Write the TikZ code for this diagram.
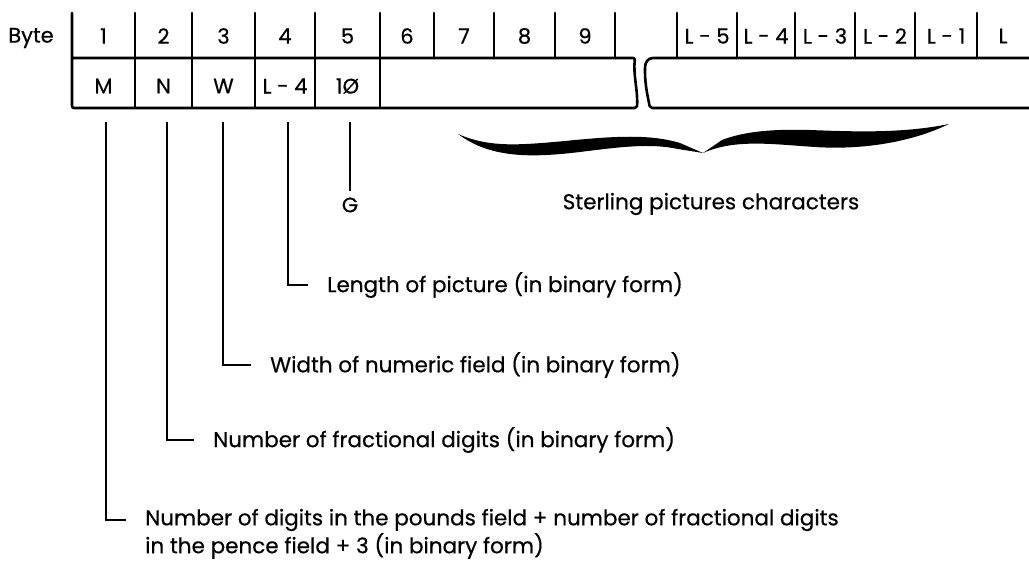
\documentclass[tikz,border=0pt]{standalone}
\usepackage{fontspec}
\setmainfont{Poppins}[FakeBold=0.5]
\newfontfamily\pop{Poppins}[FakeBold=0.5]
\begin{document}
\begin{tikzpicture}[x=1pt,y=-1pt,
  box/.style={line width=2.6pt, line cap=round, line join=round},
  cell/.style={font=\pop\fontsize{21}{24}\selectfont, inner sep=0pt},
  leader/.style={line width=1.1pt},
  desc/.style={font=\pop\fontsize{21.5}{25}\selectfont, inner ysep=0pt, inner xsep=17pt, anchor=west}]
\useasboundingbox (0,0) rectangle (1029,564);
% ---- left part of the record
\draw[box, rounded corners=2pt] (72,13) -- (72,108) -- (637,108)
   .. controls (638,90) and (633,75) .. (635,58) -- (72,58);
% ---- right part of the record
\draw[box, rounded corners=2pt] (1032,58) -- (655,58) .. controls (648,58) and (645,62) .. (645,70)
   .. controls (645,85) and (648,98) .. (650,108) -- (1032,108);
% full-height dividers
\foreach \x in {135,192,255,315,380} \draw[box] (\x,13) -- (\x,108);
% top-row dividers
\foreach \x in {434,494,555,615,677,737,795,855,915,977} \draw[box] (\x,13) -- (\x,58);
% ---- labels
\node[cell] (byte) at (31,38) {Byte};
\node[cell] (b1) at (103.5,36) {1};
\node[cell] (b2) at (163.5,36) {2};
\node[cell] (b3) at (223.5,36) {3};
\node[cell] (b4) at (285,36) {4};
\node[cell] (b5) at (347.5,36) {5};
\node[cell] (b6) at (407,36) {6};
\node[cell] (b7) at (464,36) {7};
\node[cell] (b8) at (524.5,36) {8};
\node[cell] (b9) at (585,36) {9};
\node[cell] (bl5) at (707,36) {L - 5};
\node[cell] (bl4) at (766,36) {L - 4};
\node[cell] (bl3) at (825,36) {L - 3};
\node[cell] (bl2) at (885,36) {L - 2};
\node[cell] (bl1) at (946,36) {L - 1};
\node[cell] (bl) at (1003,36) {L};
\node[cell] (cM) at (103.5,86) {M};
\node[cell] (cN) at (163.5,86) {N};
\node[cell] (cW) at (223.5,86) {W};
\node[cell] (cL) at (285,86) {L - 4};
\node[cell] (cG) at (347.5,86) {1Ø};
% ---- leaders
\coordinate (t1) at (106,122);
\coordinate (t2) at (167,122);
\coordinate (t3) at (223,122);
\coordinate (t4) at (288,122);
\coordinate (t5) at (350,122);
\node[cell, inner sep=6pt] (G) at (350,205) {G};
\node[desc] (d4) at (310,285) {Length of picture (in binary form)};
\node[desc] (d3) at (253,365) {Width of numeric field (in binary form)};
\node[desc] (d2) at (196,440) {Number of fractional digits (in binary form)};
\node[desc] (d1) at (128,520) {Number of digits in the pounds field + number of fractional digits};
\node[desc] (d1b) at ([yshift=-26pt]d1.west) {in the pence field + 3 (in binary form)};
\draw[leader] (t5) -- (G.north);
\draw[leader] (t4) |- ([xshift=-2pt]d4.west);
\draw[leader] (t3) |- ([xshift=-2pt]d3.west);
\draw[leader] (t2) |- ([xshift=-2pt]d2.west);
\draw[leader] (t1) |- ([xshift=-2pt]d1.west);
% ---- brace
\fill (458,134) .. controls (490,148) and (520,145) .. (565,141)
   .. controls (615,136) and (650,134) .. (680,143) -- (703,153)
   -- (678,149) .. controls (650,143) and (620,147) .. (580,152)
   .. controls (530,158) and (490,158) .. (458,134) -- cycle;
\fill (703,153) -- (722,140) .. controls (745,131) and (775,129) .. (810,130)
   .. controls (860,132) and (905,133) .. (949,124)
   .. controls (910,143) and (860,150) .. (815,147)
   .. controls (770,144) and (735,139) .. (703,153) -- cycle;
\node[cell, font=\pop\fontsize{21.5}{25}\selectfont] (st) at (711,204) {Sterling pictures characters};
\end{tikzpicture}
\end{document}
